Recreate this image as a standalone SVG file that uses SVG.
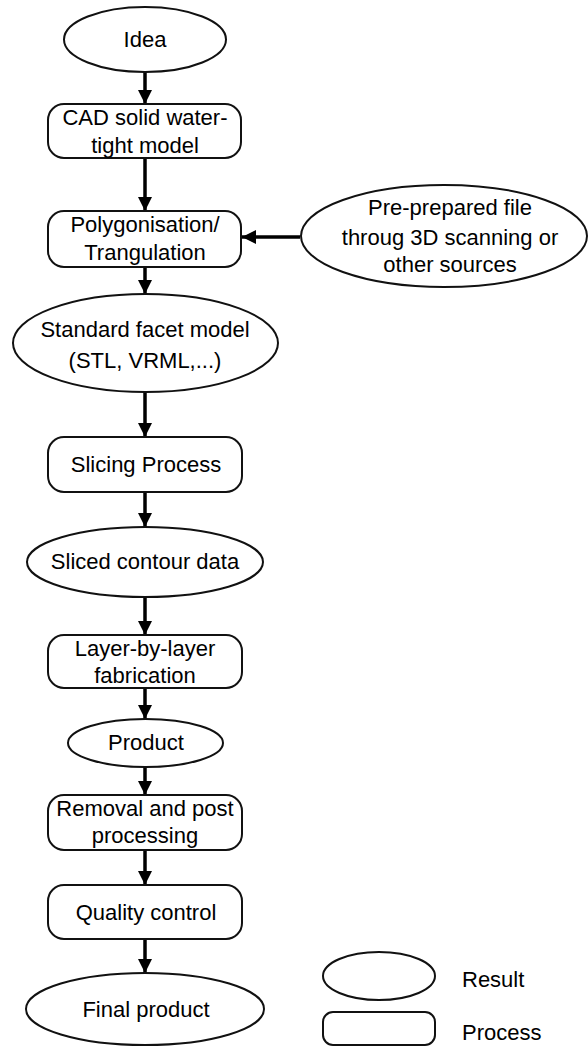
<svg xmlns="http://www.w3.org/2000/svg" width="588" height="1047" viewBox="0 0 588 1047">
<defs>
<style>
.n{fill:#fff;stroke:#111;stroke-width:2}
.t{font-family:"Liberation Sans",Arial,sans-serif;font-size:22px;fill:#000;text-anchor:middle}
.l{font-family:"Liberation Sans",Arial,sans-serif;font-size:22px;fill:#000}
.c{stroke:#000;stroke-width:3.5;fill:none;marker-end:url(#ah)}
</style>
<marker id="ah" markerUnits="userSpaceOnUse" markerWidth="14" markerHeight="14" viewBox="0 0 14 14" refX="14" refY="7" orient="auto">
<path d="M0,0 L14,7 L0,14 z" fill="#000"/>
</marker>
</defs>
<rect width="588" height="1047" fill="#fff"/>
<g id="connectors">
<line class="c" x1="145" y1="72" x2="145" y2="104"/>
<line class="c" x1="145" y1="158" x2="145" y2="211"/>
<line class="c" x1="300" y1="237" x2="242" y2="237"/>
<line class="c" x1="145" y1="267" x2="145" y2="294"/>
<line class="c" x1="145" y1="392" x2="145" y2="437"/>
<line class="c" x1="145" y1="492" x2="145" y2="527"/>
<line class="c" x1="145" y1="597" x2="145" y2="635"/>
<line class="c" x1="145" y1="688" x2="145" y2="719"/>
<line class="c" x1="145" y1="767" x2="145" y2="795"/>
<line class="c" x1="145" y1="850" x2="145" y2="885"/>
<line class="c" x1="145" y1="939" x2="145" y2="973"/>
</g>
<g id="idea">
<ellipse class="n" cx="145" cy="39.5" rx="81" ry="32.5"/>
<text class="t" x="145" y="47">Idea</text>
</g>
<g id="cad">
<rect class="n" x="48" y="104" width="193" height="54" rx="16"/>
<text class="t" x="145" y="125">CAD solid water-</text>
<text class="t" x="145" y="153">tight model</text>
</g>
<g id="polygonisation">
<rect class="n" x="48" y="211" width="193" height="56" rx="16"/>
<text class="t" x="145" y="232">Polygonisation/</text>
<text class="t" x="145" y="260">Trangulation</text>
</g>
<g id="preprepared">
<ellipse class="n" cx="444" cy="236" rx="143" ry="51"/>
<text class="t" x="450" y="215">Pre-prepared file</text>
<text class="t" x="450" y="245">throug 3D scanning or</text>
<text class="t" x="450" y="272">other sources</text>
</g>
<g id="facet">
<ellipse class="n" cx="145.5" cy="343" rx="132.5" ry="49"/>
<text class="t" x="145" y="337">Standard facet model</text>
<text class="t" x="145" y="368">(STL, VRML,...)</text>
</g>
<g id="slicing">
<rect class="n" x="48" y="437" width="194" height="55" rx="16"/>
<text class="t" x="146" y="472">Slicing Process</text>
</g>
<g id="contour">
<ellipse class="n" cx="145" cy="562" rx="118" ry="35"/>
<text class="t" x="145" y="569">Sliced contour data</text>
</g>
<g id="layer">
<rect class="n" x="48" y="635" width="194" height="53" rx="16"/>
<text class="t" x="145" y="656">Layer-by-layer</text>
<text class="t" x="145" y="683">fabrication</text>
</g>
<g id="product">
<ellipse class="n" cx="145.5" cy="743" rx="77.5" ry="24"/>
<text class="t" x="146" y="750">Product</text>
</g>
<g id="removal">
<rect class="n" x="48" y="795" width="194" height="55" rx="16"/>
<text class="t" x="145" y="816">Removal and post</text>
<text class="t" x="145" y="843">processing</text>
</g>
<g id="quality">
<rect class="n" x="48" y="885" width="194" height="54" rx="16"/>
<text class="t" x="146" y="920">Quality control</text>
</g>
<g id="final">
<ellipse class="n" cx="145" cy="1009" rx="119" ry="36"/>
<text class="t" x="146" y="1017">Final product</text>
</g>
<g id="legend-result">
<ellipse class="n" cx="379" cy="976" rx="56" ry="24"/>
<text class="l" x="462" y="987">Result</text>
</g>
<g id="legend-process">
<rect class="n" x="323" y="1012" width="112" height="33" rx="10"/>
<text class="l" x="462" y="1040">Process</text>
</g>
</svg>
